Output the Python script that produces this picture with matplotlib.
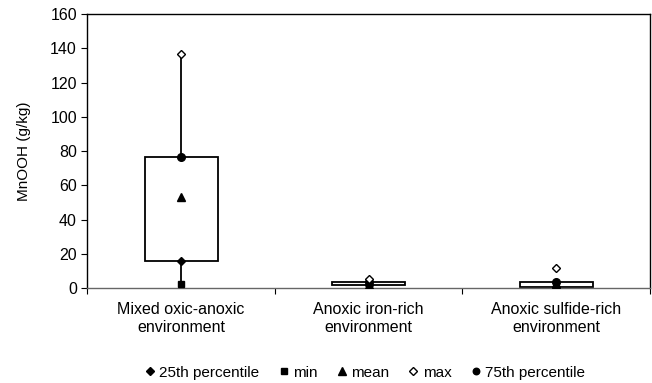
import matplotlib
matplotlib.use("Agg")
import matplotlib.pyplot as plt
import numpy as np

plt.rcParams['font.family'] = ['Liberation Sans', 'DejaVu Sans']

# MnOOH summary statistics per depositional environment (g/kg)
environments = ["Mixed oxic-anoxic\nenvironment",
                "Anoxic iron-rich\nenvironment",
                "Anoxic sulfide-rich\nenvironment"]
p25 = [16, 1.5, 0.5]
vmin = [2.5, 0.4, 0.3]
vmean = [53, 2.0, 2.0]
vmax = [137, 5.5, 11.5]
p75 = [76.5, 3.5, 3.3]
show_whisker = [True, True, False]

x = np.arange(len(environments))
box_w = 0.39

fig = plt.figure(figsize=(6.52, 3.83), dpi=100)
ax = fig.add_axes([0.134, 0.248, 0.863, 0.715])

# whiskers from min to max, then the box between the quartiles
for xi, lo, hi, q1, q3, w in zip(x, vmin, vmax, p25, p75, show_whisker):
    if w:
        ax.plot([xi, xi], [lo, hi], color="black", lw=1.3, zorder=1)
    ax.add_patch(plt.Rectangle((xi - box_w / 2, q1), box_w, q3 - q1,
                               facecolor="white", edgecolor="black",
                               lw=1.3, zorder=2))

ms = 5
ax.plot(x, p25, "D", color="black", ms=ms - 0.5, ls="none", zorder=3, label="25th percentile")
ax.plot(x, vmin, "s", color="black", ms=ms, ls="none", zorder=3, label="min")
ax.plot(x, vmean, "^", color="black", ms=ms + 1, ls="none", zorder=3, label="mean")
ax.plot(x, vmax, "D", mfc="white", mec="black", mew=1, ms=ms - 0.5, ls="none",
        zorder=4, label="max")
ax.plot(x, p75, "o", color="black", ms=ms + 0.5, ls="none", zorder=3, label="75th percentile")

ax.set_xlim(-0.5, 2.5)
ax.set_ylim(0, 160)
ax.set_yticks(np.arange(0, 161, 20))
ax.set_xticks([-0.5, 0.5, 1.5, 2.5])
ax.set_xticklabels([])
ax.set_xticks(x, minor=True)
ax.set_xticklabels(environments, minor=True, fontsize=11.5, linespacing=1.25)
ax.tick_params(axis="x", which="minor", length=0, pad=10)
ax.tick_params(axis="x", which="major", length=4, direction="out")
ax.tick_params(axis="y", length=4, direction="out", labelsize=11.5)
ax.set_ylabel("MnOOH (g/kg)", fontsize=11, labelpad=14)

for s in ax.spines.values():
    s.set_linewidth(1.0)
ax.spines["bottom"].set_color("#666666")

fig.legend(loc="center", bbox_to_anchor=(0.56, 0.027), ncol=5, frameon=False,
           fontsize=11, handlelength=0.6, handletextpad=0.3, columnspacing=1.3,
           borderpad=0, markerscale=0.85)

fig.savefig("out.png", dpi=100)
plt.close("all")
